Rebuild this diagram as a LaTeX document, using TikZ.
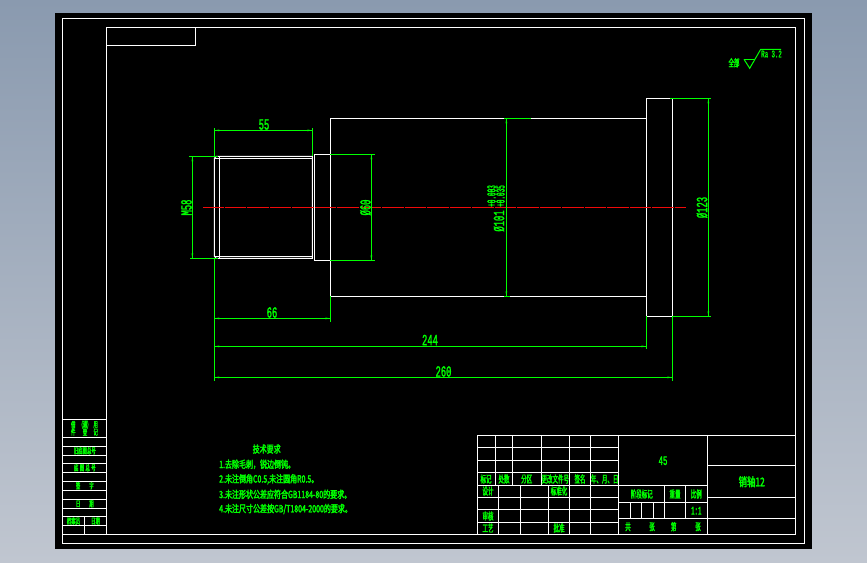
\documentclass[tikz,border=0pt]{standalone}
\usepackage{fontspec}
\newfontfamily\cadfont[FakeStretch=0.55,FakeBold=2.2]{Noto Sans CJK SC}
\newfontfamily\notefont[FakeStretch=0.7,FakeBold=2.6]{Noto Sans CJK SC}
\newfontfamily\cadnum[FakeStretch=0.57,FakeBold=1.5]{Liberation Mono}
\newfontfamily\cadtol[FakeStretch=0.48,FakeBold=1.5]{Liberation Mono}
\usetikzlibrary{arrows.meta}
\definecolor{sheettop}{RGB}{138,154,175}
\definecolor{sheetbot}{RGB}{192,198,208}
\definecolor{cadgreen}{RGB}{0,255,0}
\definecolor{cadred}{RGB}{240,10,10}
\tikzstyle{frameline} = [draw=white, line width=1pt]
\tikzstyle{partline}  = [draw=white, line width=1pt]
\tikzstyle{dimline}   = [draw=cadgreen, line width=1pt]
\tikzstyle{dimarrow}  = [draw=cadgreen, line width=1pt, {Latex[length=5pt,width=3pt,color=green!35!black]}-{Latex[length=5pt,width=3pt,color=green!35!black]}, postaction={draw=cadgreen,line width=1pt,-}]
\tikzstyle{axisline}  = [draw=cadred, line width=1pt, dash pattern=on 20.6pt off 0.7pt on 0.5pt off 0.7pt]
\tikzstyle{dimtext}   = [inner sep=0pt, text=cadgreen, font=\cadnum\fontsize{15.5}{15.5}\selectfont]
\tikzstyle{toltext}   = [inner sep=0pt, text=cadgreen, rotate=90, font=\cadtol\fontsize{12.5}{12.5}\selectfont]
\tikzstyle{cadtext}   = [inner sep=0pt, text=cadgreen, font=\cadfont\fontsize{10}{10}\selectfont]
\tikzstyle{striptext} = [inner sep=0pt, text=cadgreen, font=\cadfont\fontsize{8}{8}\selectfont]
\tikzstyle{notetext}  = [inner sep=0pt, anchor=west, text=cadgreen, font=\notefont\fontsize{10}{10}\selectfont]

\begin{document}
\begin{tikzpicture}[x=1pt,y=-1pt]

    % sheet
    \shade [top color=sheettop, bottom color=sheetbot] (0,0) rectangle (867,562);
    \useasboundingbox (0,0) rectangle (867,562);
    \fill [black] (55,13) rectangle (812,549);

    % frames
    \draw [frameline] (62.5,18.5) rectangle (804.7,543.3);
    \draw [frameline] (106.5,27.5) rectangle (795.3,534.3);
    \draw [frameline] (106.5,45) -- (195.5,45) -- (195.5,27.5);

    % left strip
    \draw [frameline] (62.5,534.3) -- (106.5,534.3);
    \foreach \y in {419.3,437.3,446,455,463.3,472.3,481.3,490.3,499.3,508.3,516.7,525.3}
        \draw [frameline] (62.5,\y) -- (106.5,\y);
    \draw [frameline] (84.3,516.7) -- (84.3,534.3);

    % title block
    \draw [frameline] (477.3,435.3) rectangle (795.3,534.3);
    \foreach \y in {447.3,460.3,472.7}
        \draw [frameline] (477.3,\y) -- (618.3,\y);
    \draw [frameline] (477.3,485.3) -- (707.3,485.3);
    \foreach \y in {497.3,509.3,522.3}
        \draw [frameline] (477.3,\y) -- (618.3,\y);
    \foreach \x in {495.3,512.3,541.3}
        \draw [frameline] (\x,435.3) -- (\x,485.3);
    \foreach \x in {498.3,520.3,548.7}
        \draw [frameline] (\x,485.3) -- (\x,534.3);
    \foreach \x in {569.3,590.7}
        \draw [frameline] (\x,435.3) -- (\x,534.3);
    \draw [frameline] (618.3,435.3) -- (618.3,534.3);
    \draw [frameline] (707.3,435.3) -- (707.3,534.3);
    \foreach \y in {502.3,518.3}
        \draw [frameline] (618.3,\y) -- (707.3,\y);
    \foreach \y in {465.3,497.3,518.3}
        \draw [frameline] (707.3,\y) -- (795.3,\y);
    \foreach \x in {664.3,685.3}
        \draw [frameline] (\x,485.3) -- (\x,518.3);
    \foreach \x in {630.3,641.3,653.3}
        \draw [frameline] (\x,502.3) -- (\x,518.3);

    % shaft
    \draw [partline] (216.3,156.3) -- (312.3,156.3) -- (312.3,258.3) -- (216.3,258.3) -- (214.3,256.3) -- (214.3,158.3) -- cycle;
    \draw [partline] (214.3,158.3) -- (312.3,158.3);
    \draw [partline] (214.3,256.3) -- (312.3,256.3);
    \draw [partline] (219.3,156.3) -- (219.3,258.3);
    \draw [partline] (314.3,154.3) -- (330.3,154.3);
    \draw [partline] (314.3,260.3) -- (330.3,260.3);
    \draw [partline] (314.3,154.3) -- (314.3,260.3);
    \draw [partline] (330.3,118.3) rectangle (646.3,296.3);
    \draw [partline] (646.3,98.3) rectangle (672.3,316.3);

    % centre line
    \draw [axisline] (203.3,207.3) -- (686,207.3);

    % extension lines
    \draw [dimline] (214.3,128) -- (214.3,156.3);
    \draw [dimline] (312.3,128) -- (312.3,156.3);
    \draw [dimline] (189,156.3) -- (218,156.3);
    \draw [dimline] (190,258.3) -- (218,258.3);
    \draw [dimline] (330.3,154.3) -- (374.7,154.3);
    \draw [dimline] (330.3,260.3) -- (374.7,260.3);
    \draw [dimline] (504,118.3) -- (531,118.3);
    \draw [dimline] (504,296.3) -- (510,296.3);
    \draw [dimline] (670,98.3) -- (711,98.3);
    \draw [dimline] (672.3,316.3) -- (711,316.3);
    \draw [dimline] (214.3,258.3) -- (214.3,380.7);
    \draw [dimline] (330.3,296.3) -- (330.3,321.7);
    \draw [dimline] (646.3,316.3) -- (646.3,349.3);
    \draw [dimline] (672.3,316.3) -- (672.3,380.7);

    % dimension lines
    \draw [dimarrow] (214.3,130.3) -- (312.3,130.3);
    \draw [dimarrow] (192.3,156.3) -- (192.3,258.3);
    \draw [dimarrow] (371.3,154.3) -- (371.3,260.3);
    \draw [dimarrow] (506.3,118.3) -- (506.3,296.3);
    \draw [dimarrow] (708.3,98.3) -- (708.3,316.3);
    \draw [dimarrow] (214.3,318.3) -- (330.3,318.3);
    \draw [dimarrow] (214.3,346.3) -- (646.3,346.3);
    \draw [dimarrow] (214.3,377.3) -- (672.3,377.3);

    % dimension texts
    \node (dima)  [dimtext] at (264,124.5) {55};
    \node (dimb)  [dimtext, rotate=90] at (186.5,207.5) {M58};
    \node (dimc)  [dimtext, rotate=90] at (365.5,207.5) {Ø60};
    \node (dimd)  [dimtext, rotate=90] at (499,221) {Ø101};
    \node (dime)  [toltext] at (500.5,196) {+0.035};
    \node (dimf)  [toltext] at (491.5,196) {+0.003};
    \node (dimg)  [dimtext, rotate=90] at (702,207.5) {Ø123};
    \node (dimh)  [dimtext] at (272,312.5) {66};
    \node (dimi)  [dimtext] at (430,340) {244};
    \node (dimj)  [dimtext] at (443.5,371.5) {260};

    % roughness
    \coordinate (rougha) at (744,59.3);
    \coordinate (roughb) at (755,59.3);
    \coordinate (roughc) at (749.7,68.3);
    \coordinate (roughd) at (760.7,49.3);
    \coordinate (roughe) at (781,49.3);
    \draw [dimline] (rougha) -- (roughb);
    \draw [dimline] (rougha) -- (roughc) -- (roughd) -- (roughe);
    \node (rest) [cadtext] at (734,62.7) {全部};
    \node (rval) [dimtext, font=\cadnum\fontsize{10}{10}\selectfont] at (771.5,54) {Ra 3.2};

    % technical notes
    \node (notes)  [cadtext, font=\notefont\fontsize{10}{10}\selectfont] at (266.7,449) {技术要求};
    \node (notea)  [notetext] at (219,464.3) {1.去除毛刺，锐边倒钝。};
    \node (noteb)  [notetext] at (219,479.3) {2.未注倒角C0.5,未注圆角R0.5。};
    \node (notec)  [notetext] at (219,494.3) {3.未注形状公差应符合GB1184-80的要求。};
    \node (noted)  [notetext] at (219,509) {4.未注尺寸公差按GB/T1804-2000的要求。};

    % left strip texts
    \node (lefta) [striptext] at (73.3,424.7) {借};
    \node (leftb) [striptext] at (85,424.7) {(通)};
    \node (leftc) [striptext] at (95.7,424.7) {用};
    \node (leftd) [striptext] at (73.3,432) {件};
    \node (lefte) [striptext] at (85,432) {登};
    \node (leftf) [striptext] at (95.7,432) {记};
    \node (leftg) [striptext] at (84.8,450.7) {旧底图总号};
    \node (lefth) [striptext] at (84.8,467.7) {底\,图\,总\,号};
    \node (lefti) [striptext] at (84.8,485.7) {签\hspace{9pt}字};
    \node (leftj) [striptext] at (84.8,503.7) {日\hspace{9pt}期};
    \node (leftk) [striptext] at (73.5,521) {档案员};
    \node (leftl) [striptext] at (95.5,521) {日期};

    % title block texts
    \node (tita) [cadtext] at (486,479) {标记};
    \node (titb) [cadtext] at (504,479) {处数};
    \node (titc) [cadtext] at (526.7,479) {分区};
    \node (titd) [cadtext] at (555.3,479) {更改文件号};
    \node (tite) [cadtext] at (580,479) {签名};
    \node (titf) [cadtext] at (604.7,479) {年、月、日};
    \node (titg) [cadtext] at (488,491) {设计};
    \node (tith) [cadtext] at (559,491) {标准化};
    \node (titi) [cadtext] at (488,516) {审核};
    \node (titj) [cadtext] at (488,528) {工艺};
    \node (titk) [cadtext] at (559,528) {批准};
    \node (titl) [cadtext] at (641.7,494) {阶段标记};
    \node (titm) [cadtext] at (675,494) {重量};
    \node (titn) [cadtext] at (696.3,494) {比例};
    \node (tito) [cadtext] at (628,526.7) {共};
    \node (titp) [cadtext] at (652,526.7) {张};
    \node (titq) [cadtext] at (673.7,526.7) {第};
    \node (titr) [cadtext] at (698,526.7) {张};
    \node (tits) [dimtext, font=\cadnum\fontsize{13}{13}\selectfont] at (663,460.7) {45};
    \node (titt) [dimtext, font=\cadtol\fontsize{12}{12}\selectfont] at (696.3,510.7) {1:1};
    \node (titu) [cadtext, font=\notefont\fontsize{12}{12}\selectfont] at (751.7,481.7) {销轴12};

\end{tikzpicture}
\end{document}
